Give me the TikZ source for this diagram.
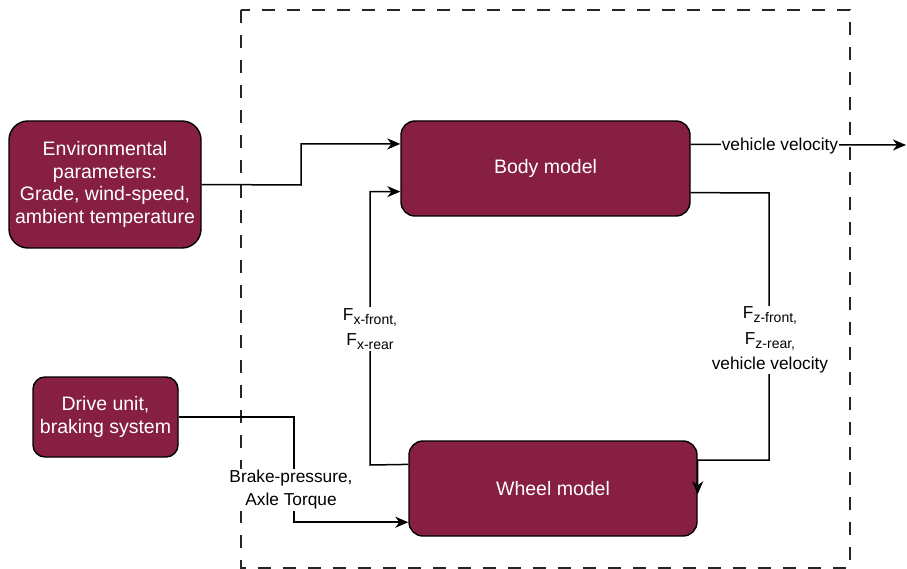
\documentclass[tikz,border=0pt]{standalone}
\usepackage{fontspec}
\setmainfont{Liberation Sans}
\usetikzlibrary{arrows.meta,calc}
\definecolor{blockred}{RGB}{134,31,65}
% lowered, smaller index text for force names
\newcommand\lowidx[1]{\raisebox{-0.45ex}{\fontsize{14}{14}\selectfont #1}}
\begin{document}
\begin{tikzpicture}[x=1pt,y=-1pt,
  block/.style={draw=black, line width=1.4pt, fill=blockred, text=white,
    align=center, font=\fontsize{19.5}{22.5}\selectfont, inner sep=0pt},
  link/.style={line width=1.5pt, draw=black},
  arr/.style={link, -{Stealth[length=13pt,width=11pt,inset=4pt]}},
  lbl/.style={fill=white, align=center, font=\fontsize{17.3}{23}\selectfont, inner sep=1pt},
  system/.style={dash pattern=on 13pt off 12pt, line width=1.4pt, draw=black!85}
]
\useasboundingbox (0,0) rectangle (907,569);

% system boundary
\draw[system] (241,10) rectangle (850,568);

% blocks
\node[block, minimum width=192pt, minimum height=127pt, rounded corners=19pt] (env) at (105,184.5)
  {Environmental\\parameters:\\Grade, wind-speed,\\ambient temperature};
\node[block, minimum width=145pt, minimum height=80pt, rounded corners=12pt] (drive) at (105.5,417)
  {Drive unit,\\braking system};
\node[block, minimum width=289pt, minimum height=95pt, rounded corners=14pt] (body) at (545.5,168.5)
  {Body model};
\node[block, minimum width=288pt, minimum height=95pt, rounded corners=14pt] (wheel) at (553,488.5)
  {Wheel model};

% ports on the block edges
\coordinate (bodyWa) at ($(body.north west)!0.245!(body.south west)$);
\coordinate (bodyWb) at ($(body.north west)!0.74!(body.south west)$);
\coordinate (bodyEa) at ($(body.north east)!0.25!(body.south east)$);
\coordinate (bodyEb) at ($(body.north east)!0.75!(body.south east)$);
\coordinate (wheelWa) at ($(wheel.north west)!0.25!(wheel.south west)$);
\coordinate (wheelWb) at ($(wheel.north west)!0.85!(wheel.south west)$);
\coordinate (wheelE) at ($(wheel.north east)!0.56!(wheel.south east)$);
\coordinate (out) at (906,145);

% connectors
\draw[arr] (env.east) -- (301,185) |- (bodyWa);
\draw[arr] (wheelWa) -- (370,465) |- (bodyWb);
\draw[arr] (bodyEb) -- (769,193) -- (769,460) -- (wheelE |- 0,460) -- (wheelE);
\draw[arr] (bodyEa) -- (out);
\draw[arr] (drive.east) -- (294,417) |- (wheelWb);

% connector labels
\node[lbl] (vv) at (780,146) {vehicle velocity};
\node[lbl, font=\fontsize{17.3}{25}\selectfont] (fx) at (370,329)
  {F\lowidx{x-front,}\\F\lowidx{x-rear}};
\node[lbl, font=\fontsize{17.3}{25.5}\selectfont] (fz) at (770,340)
  {F\lowidx{z-front,}\\F\lowidx{z-rear,}\\vehicle velocity};
\node[lbl] (bp) at (291,490) {Brake-pressure,\\Axle Torque};
\end{tikzpicture}
\end{document}
